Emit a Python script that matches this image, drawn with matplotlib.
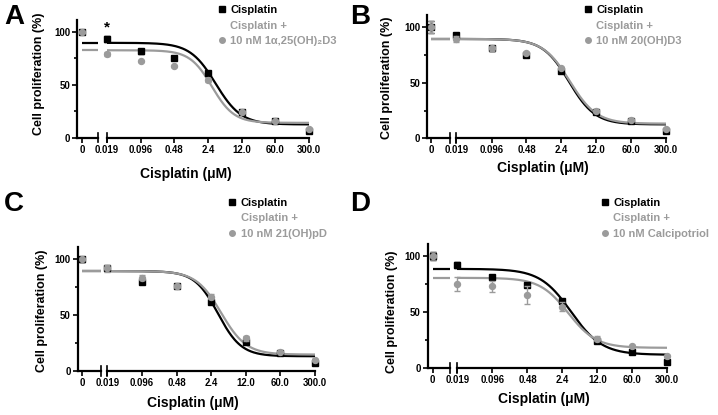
import numpy as np
import matplotlib
matplotlib.use('Agg')
import matplotlib.pyplot as plt
from matplotlib.lines import Line2D
from matplotlib.ticker import NullLocator

plt.rcParams['font.family'] = ['Liberation Sans', 'DejaVu Sans']
plt.rcParams['font.weight'] = 'bold'

W, H = 718, 415
GRAY = '#9b9b9b'

# cisplatin doses (uM) and labels
conc = [0.019, 0.096, 0.48, 2.4, 12.0, 60.0, 300.0]
conc_labels = ['0.019', '0.096', '0.48', '2.4', '12.0', '60.0', '300.0']
control = 100

# panel A - 1a,25(OH)2D3
a_cis = [93, 81.5, 75.5, 61.3, 24, 16, 6.3]
a_cis_err = [2.5, 2.5, 1.5, 1, 1.5, 1, 1]
a_vd = [79, 72, 67.6, 54, 24, 15.7, 8.5]
a_vd_err = [1.5, 0.5, 0.5, 1, 1, 1, 0.5]
a_ctrl_err = 1.5
a_fit_cis = [89.5, 12.5, 3.47, 1.64]   # top, bottom, IC50, hill
a_fit_vd = [82.5, 14.0, 2.9, 1.9]

# panel B - 20(OH)D3
b_cis = [93, 81, 75, 60.6, 24, 15.5, 6.6]
b_cis_err = [1, 2.5, 1, 1, 1, 1, 1]
b_vd = [89.5, 81, 77, 63, 24.6, 16.2, 8.4]
b_vd_err = [3, 2.5, 1, 1, 1, 1, 1]
b_ctrl_err = 5.5
b_fit_cis = [89.5, 12.5, 3.42, 1.66]
b_fit_vd = [89.5, 13.2, 3.55, 1.62]

# panel C - 21(OH)pD
c_cis = [92, 80, 76, 61.4, 25.5, 16, 7.2]
c_cis_err = [2, 1, 1, 1, 1, 1, 1]
c_vd = [92, 83.6, 76, 66.5, 29, 17, 9.6]
c_vd_err = [3, 2, 2, 2, 2, 1, 1]
c_ctrl_err = 2
c_fit_cis = [89.5, 13.0, 3.29, 1.84]
c_fit_vd = [89.5, 14.5, 3.8, 1.71]

# panel D - calcipotriol
d_cis = [92, 81, 74, 59.7, 24, 14.3, 5.4]
d_cis_err = [2.5, 1.5, 1, 1, 1, 1, 1]
d_vd = [75, 73, 65.5, 54.6, 26.3, 19.7, 10.5]
d_vd_err = [6.6, 5, 8, 4, 2, 1, 1]
d_ctrl_err = 4
d_fit_cis = [88.5, 11.8, 3.58, 1.40]
d_fit_vd = [80.5, 18.0, 3.12, 1.54]

panels = [
    dict(letter='A', cis=a_cis, cis_err=a_cis_err, vd=a_vd, vd_err=a_vd_err, ctrl_err=a_ctrl_err,
         fit_cis=a_fit_cis, fit_vd=a_fit_vd, label='10 nM 1\u03b1,25(OH)\u2082D3',
         left=(77, 98.3), right=(106.7, 309), ybot=137.7, scale=1.06, zero=0.25,
         leg=(219, 5), ylab=(39, 73.3), xlab=(186, 174), let=(4, 4)),
    dict(letter='B', cis=b_cis, cis_err=b_cis_err, vd=b_vd, vd_err=b_vd_err, ctrl_err=b_ctrl_err,
         fit_cis=b_fit_cis, fit_vd=b_fit_vd, label='10 nM 20(OH)D3',
         left=(427, 449.5), right=(456.5, 666), ybot=138.3, scale=1.11, zero=0.18,
         leg=(585, 5), ylab=(387.5, 77.5), xlab=(543.3, 168.3), let=(350, 4)),
    dict(letter='C', cis=c_cis, cis_err=c_cis_err, vd=c_vd, vd_err=c_vd_err, ctrl_err=c_ctrl_err,
         fit_cis=c_fit_cis, fit_vd=c_fit_vd, label='10 nM 21(OH)pD',
         left=(77.7, 100.7), right=(107.3, 315), ybot=370.7, scale=1.113, zero=0.2,
         leg=(229.5, 197.5), ylab=(41.7, 310.7), xlab=(193.3, 402.5), let=(4, 191)),
    dict(letter='D', cis=d_cis, cis_err=d_cis_err, vd=d_vd, vd_err=d_vd_err, ctrl_err=d_ctrl_err,
         fit_cis=d_fit_cis, fit_vd=d_fit_vd, label='10 nM Calcipotriol',
         left=(427.7, 450), right=(457.3, 667.3), ybot=368, scale=1.12, zero=0.22,
         leg=(602, 197.5), ylab=(391.7, 311.7), xlab=(543.7, 399), let=(350, 191)),
]

YTOP = 111


def hill(x, p):
    top, bottom, ic50, h = p
    return bottom + (top - bottom) / (1 + (x / ic50) ** h)


fig = plt.figure(figsize=(W / 100, H / 100), dpi=100)

for p in panels:
    hpx = YTOP * p['scale']
    l0, l1 = p['left']
    r0, r1 = p['right']
    axl = fig.add_axes([l0 / W, 1 - p['ybot'] / H, (l1 - l0) / W, hpx / H])
    axr = fig.add_axes([r0 / W, 1 - p['ybot'] / H, (r1 - r0) / W, hpx / H])

    # left segment: untreated control
    rmax = (1 - p['zero']) / p['zero']
    axl.set_xlim(-1, rmax)
    axl.set_ylim(0, YTOP)
    axl.plot([0, rmax], [p['fit_cis'][0]] * 2, color='k', lw=1.6, solid_capstyle='butt')
    axl.plot([0, rmax], [p['fit_vd'][0]] * 2, color=GRAY, lw=1.6, solid_capstyle='butt')
    axl.errorbar([0], [control], yerr=[p['ctrl_err']], fmt='s', color='k', ms=4.8,
                 capsize=2, elinewidth=1, clip_on=False)
    axl.errorbar([0], [control], yerr=[p['ctrl_err']], fmt='o', color=GRAY, ms=4.3,
                 capsize=2, elinewidth=1, clip_on=False)
    for s in ['top', 'right']:
        axl.spines[s].set_visible(False)
    for s in ['left', 'bottom']:
        axl.spines[s].set_linewidth(1.6)
    axl.set_xticks([0])
    axl.set_xticklabels(['0'])
    axl.set_yticks([0, 50, 100])
    axl.set_yticks([25, 75], minor=True)
    axl.tick_params(axis='both', which='major', length=3.5, width=1.2, pad=1.5, labelsize=7)
    axl.tick_params(axis='y', which='minor', length=2.2, width=1.2)
    axl.plot([1, 1], [-0.04, 0.04], transform=axl.transAxes, color='k', lw=1.2, clip_on=False)

    # right segment: log doses
    axr.set_xscale('log')
    axr.set_xlim(conc[0], conc[-1])
    axr.set_ylim(0, YTOP)
    xs = np.logspace(np.log10(conc[0]), np.log10(conc[-1]), 300)
    axr.plot(xs, hill(xs, p['fit_cis']), color='k', lw=1.6)
    axr.plot(xs, hill(xs, p['fit_vd']), color=GRAY, lw=1.6)
    axr.errorbar(conc, p['cis'], yerr=p['cis_err'], fmt='s', color='k', ms=4.8,
                 capsize=2, elinewidth=1, clip_on=False, zorder=3)
    axr.errorbar(conc, p['vd'], yerr=p['vd_err'], fmt='o', color=GRAY, ms=4.3,
                 capsize=2, elinewidth=1, clip_on=False, zorder=4)
    for s in ['top', 'right', 'left']:
        axr.spines[s].set_visible(False)
    axr.spines['bottom'].set_linewidth(1.6)
    axr.set_yticks([])
    axr.set_xticks(conc)
    axr.set_xticklabels(conc_labels)
    axr.xaxis.set_minor_locator(NullLocator())
    axr.tick_params(axis='x', which='major', length=3.5, width=1.2, pad=1.5, labelsize=6.9)
    axr.plot([0, 0], [-0.04, 0.04], transform=axr.transAxes, color='k', lw=1.2, clip_on=False)

    if p['letter'] == 'A':
        axr.text(conc[0], 97, '*', ha='center', va='bottom', fontsize=11, fontweight='bold')

    handles = [Line2D([], [], marker='s', color='k', ls='none', ms=4.5),
               Line2D([], [], ls='none'),
               Line2D([], [], marker='o', color=GRAY, ls='none', ms=4)]
    labels = ['Cisplatin', 'Cisplatin +', p['label']]
    lx, ly = p['leg']
    axr.legend(handles, labels, loc='upper left', bbox_to_anchor=(lx / W, 1 - ly / H),
               bbox_transform=fig.transFigure, frameon=False, fontsize=8,
               handlelength=0.5, handletextpad=0.5, labelspacing=0.5, borderpad=0,
               borderaxespad=0, labelcolor=['k', GRAY, GRAY])

    fig.text(p['ylab'][0] / W, 1 - p['ylab'][1] / H, 'Cell proliferation (%)', rotation=90,
             ha='center', va='center', fontsize=9, fontweight='bold')
    fig.text(p['xlab'][0] / W, 1 - p['xlab'][1] / H, 'Cisplatin (\u03bcM)',
             ha='center', va='center', fontsize=10, fontweight='bold')
    fig.text(p['let'][0] / W, 1 - p['let'][1] / H, p['letter'],
             ha='left', va='top', fontsize=20, fontweight='bold')

fig.savefig('out.png', dpi=100)
